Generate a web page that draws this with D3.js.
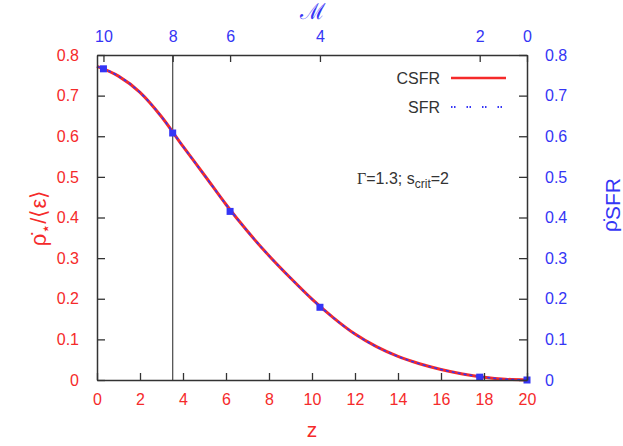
<!DOCTYPE html>
<html>
<head>
<meta charset="utf-8">
<script src="https://cdn.jsdelivr.net/npm/d3@7"></script>
<style>
  body { margin: 0; background: #fff; }
  text { font-family: "Liberation Sans", Arial, sans-serif; }
</style>
</head>
<body>
<div id="chart"></div>
<script>
// redshift grid and the star formation rate curve (CSFR and SFR coincide)
const zGrid = [0, 1, 2, 3, 4, 5, 6, 7, 8, 9, 10, 11, 12, 13, 14, 15, 16, 17, 18, 19, 20];
const csfr = [0.772, 0.748, 0.708, 0.648, 0.575, 0.504, 0.432, 0.366, 0.306, 0.251, 0.199,
              0.153, 0.113, 0.082, 0.058, 0.040, 0.026, 0.015, 0.007, 0.002, 0.0];
// points where the Mach number takes even values
const machLabels = [10, 8, 6, 4, 2, 0];
const machZ = [0.3, 3.52, 6.19, 10.37, 17.8, 20];
const machVal = [0.766, 0.608, 0.415, 0.179, 0.007, 0.0];
const xTicks = [0, 2, 4, 6, 8, 10, 12, 14, 16, 18, 20];
const yTicks = [0, 0.1, 0.2, 0.3, 0.4, 0.5, 0.6, 0.7, 0.8];

const W = 623, H = 446;
const margin = {top: 55, right: 96, bottom: 66, left: 97},
      width = W - margin.left - margin.right,
      height = H - margin.top - margin.bottom;

const red = "#f52a2a", blue = "#3535f5", axisCol = "#333";

const svg = d3.select("#chart").append("svg")
    .attr("width", W).attr("height", H);
const g = svg.append("g").attr("transform", `translate(${margin.left},${margin.top})`);

const x = d3.scaleLinear().domain([0, 20]).range([0, width]);
const y = d3.scaleLinear().domain([0, 0.8]).range([height, 0]);

// vertical marker at Mach 8
g.append("line")
    .attr("x1", x(machZ[1])).attr("x2", x(machZ[1]))
    .attr("y1", 0).attr("y2", height)
    .attr("stroke", "#555").attr("stroke-width", 1.3);

// curves
const line = d3.line().x((d, i) => x(zGrid[i])).y(d => y(d)).curve(d3.curveMonotoneX);
g.append("path").datum(csfr).attr("d", line)
    .attr("fill", "none").attr("stroke", red).attr("stroke-width", 3);
g.append("path").datum(csfr).attr("d", line)
    .attr("fill", "none").attr("stroke", blue).attr("stroke-width", 1.6)
    .attr("stroke-dasharray", "3,3");

g.selectAll("rect.pt").data(machZ).enter().append("rect")
    .attr("class", "pt")
    .attr("x", d => x(d) - 3.5).attr("y", (d, i) => y(machVal[i]) - 3.5)
    .attr("width", 7).attr("height", 7).attr("fill", blue);

// axes
function styleAxis(sel, col) {
    sel.select(".domain").attr("stroke", axisCol).attr("stroke-width", 1.5);
    sel.selectAll(".tick line").attr("stroke", axisCol).attr("stroke-width", 1.3);
    sel.selectAll(".tick text").attr("fill", col)
        .style("font-family", "'Liberation Sans', Arial, sans-serif").style("font-size", "16px");
}

const xAxis = g.append("g").attr("transform", `translate(0,${height})`)
    .call(d3.axisBottom(x).tickValues(xTicks).tickSizeInner(-7).tickSizeOuter(0).tickPadding(14));
styleAxis(xAxis, red);

const topAxis = g.append("g")
    .call(d3.axisTop(x).tickValues(machZ).tickFormat((d, i) => machLabels[i])
        .tickSizeInner(-7).tickSizeOuter(0).tickPadding(13));
styleAxis(topAxis, blue);

const yAxis = g.append("g")
    .call(d3.axisLeft(y).tickValues(yTicks).tickFormat(d => d === 0 ? "0" : d3.format(".1f")(d))
        .tickSizeInner(-8).tickSizeOuter(0).tickPadding(18));
styleAxis(yAxis, red);

const yAxisR = g.append("g").attr("transform", `translate(${width},0)`)
    .call(d3.axisRight(y).tickValues(yTicks).tickFormat(d => d === 0 ? "0" : d3.format(".1f")(d))
        .tickSizeInner(-8).tickSizeOuter(0).tickPadding(18));
styleAxis(yAxisR, blue);

// axis titles
svg.append("text").attr("x", margin.left + width / 2).attr("y", 437)
    .attr("text-anchor", "middle").attr("fill", red).style("font-size", "21px").text("z");

svg.append("text").attr("x", margin.left + width / 2).attr("y", 19)
    .attr("text-anchor", "middle").attr("fill", blue)
    .style("font-family", "'DejaVu Serif', serif").style("font-size", "22px").text("ℳ");

const lt = svg.append("text").attr("transform", "translate(46,218) rotate(-90)")
    .attr("text-anchor", "middle").attr("fill", red).style("font-size", "22px");
lt.append("tspan").text("ρ̇");
lt.append("tspan").attr("dy", 5).style("font-family", "'DejaVu Sans', sans-serif")
    .style("font-size", "16px").text("⋆");
lt.append("tspan").attr("dy", -5).text("/⟨ε⟩");

const rt = svg.append("text").attr("transform", "translate(617,205) rotate(-90)")
    .attr("text-anchor", "middle").attr("fill", blue).style("font-size", "21px");
rt.append("tspan").text("ρ̇");
rt.append("tspan").attr("dy", 3).text("SFR");

// legend
const legend = g.append("g");
const legendItems = [["CSFR", red, null], ["SFR", blue, "1.5,1.5,1.5,11"]];
legendItems.forEach((d, i) => {
    const ly = 23 + i * 29;
    legend.append("text").attr("x", 343).attr("y", ly + 6)
        .attr("text-anchor", "end").attr("fill", axisCol).style("font-size", "16px").text(d[0]);
    legend.append("line").attr("x1", 354).attr("x2", 409).attr("y1", ly).attr("y2", ly)
        .attr("stroke", d[1]).attr("stroke-width", d[2] ? 2 : 2.5)
        .attr("stroke-dasharray", d[2]);
});

// annotation
const ann = g.append("text").attr("x", 260).attr("y", 129)
    .attr("fill", axisCol).style("font-size", "16px");
ann.append("tspan").style("font-family", "'Liberation Serif', serif").text("Γ");
ann.append("tspan").text("=1.3; s");
ann.append("tspan").attr("dy", 4).style("font-size", "12px").text("crit");
ann.append("tspan").attr("dy", -4).text("=2");
</script>
</body>
</html>
